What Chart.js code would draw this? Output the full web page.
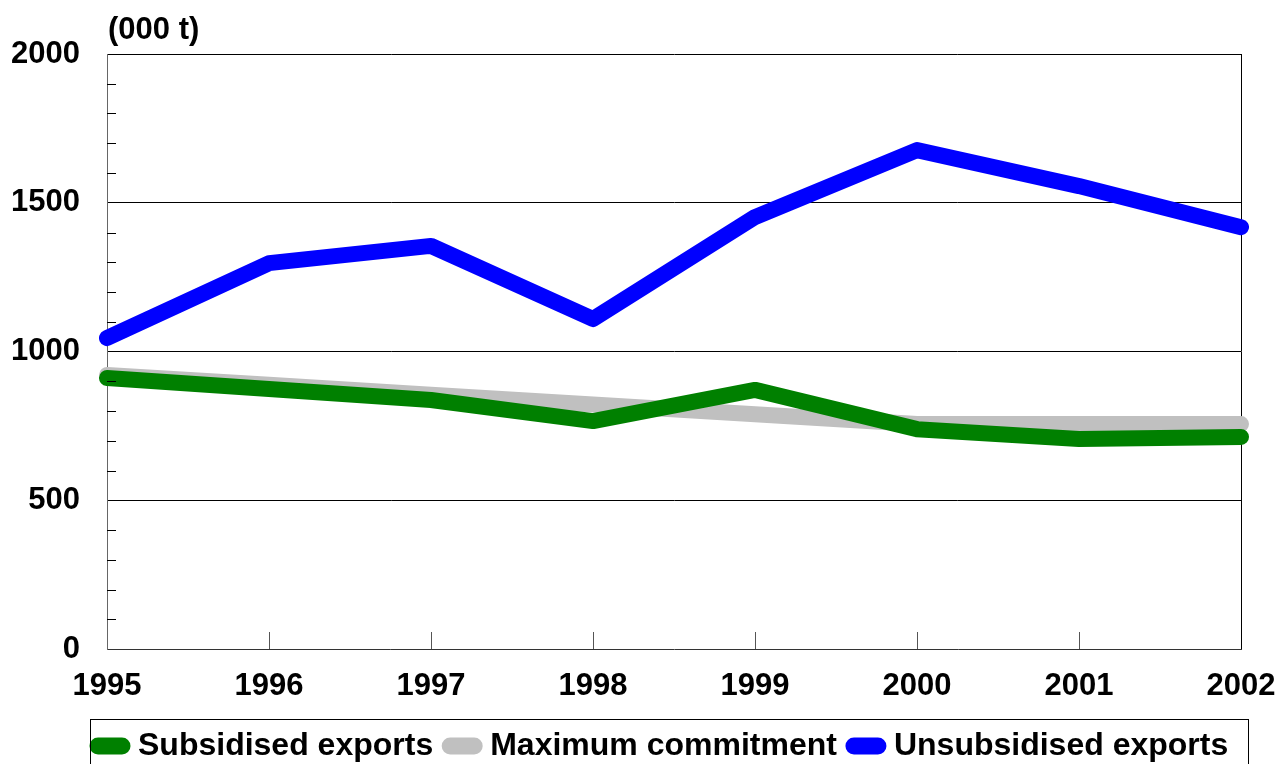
<!DOCTYPE html>
<html>
<head>
<meta charset="utf-8">
<script src="https://cdn.jsdelivr.net/npm/chart.js@4/dist/chart.umd.min.js"></script>
<style>
  html, body { margin: 0; padding: 0; background: #fff; }
  #wrap { width: 1281px; height: 764px; }
</style>
</head>
<body>
<div id="wrap"><canvas id="exportsChart" width="1281" height="764"></canvas></div>
<script>
// data (000 t)
var years = ['1995', '1996', '1997', '1998', '1999', '2000', '2001', '2002'];
var subsidised = [911, 874, 837, 766, 871, 739, 706, 713];
var maxCommitment = [921, 888, 855, 822, 789, 756, 756, 756];
var unsubsidised = [1045, 1297, 1355, 1109, 1452, 1677, 1556, 1418];
var yLabels = [0, 500, 1000, 1500, 2000];
var unitLabel = '(000 t)';

var FONT = '"Liberation Sans", Arial, sans-serif';

// small ticks inside the plot + unit label + legend frame
var extras = {
  id: 'extras',
  afterLayout: function (chart) {
    var lg = chart.legend;
    if (lg) { lg.left = 81; lg.right = 1281; lg.top += 8; lg.bottom += 8; }
  },
  afterDraw: function (chart) {
    var ctx = chart.ctx, x = chart.scales.x, y = chart.scales.y, a = chart.chartArea;
    ctx.save();
    ctx.lineWidth = 1;
    ctx.strokeStyle = '#000';
    for (var v = 100; v < 2000; v += 100) {
      if (v % 500 === 0) continue;
      var py = Math.round(y.getPixelForValue(v)) + 0.5;
      ctx.beginPath(); ctx.moveTo(a.left, py); ctx.lineTo(a.left + 9, py); ctx.stroke();
    }
    ctx.strokeStyle = '#555';
    for (var i = 1; i < years.length - 1; i++) {
      var px = Math.round(x.getPixelForValue(i)) + 0.5;
      ctx.beginPath(); ctx.moveTo(px, a.bottom); ctx.lineTo(px, a.bottom - 17); ctx.stroke();
    }
    ctx.fillStyle = '#000';
    ctx.font = 'bold 31px ' + FONT;
    ctx.textBaseline = 'middle';
    ctx.textAlign = 'left';
    ctx.fillText(unitLabel, a.left + 1, 30);

    var lg = chart.legend;
    if (lg && lg.legendHitBoxes.length) {
      var hb = lg.legendHitBoxes;
      var l = hb[0].left - 8, r = hb[hb.length - 1].left + hb[hb.length - 1].width + 20;
      ctx.strokeStyle = '#000';
      ctx.strokeRect(Math.round(l) + 0.5, 719.5, Math.round(r - l), 60);
    }
    ctx.restore();
  }
};

new Chart(document.getElementById('exportsChart'), {
  type: 'line',
  data: {
    labels: years,
    datasets: [
      { label: 'Subsidised exports', data: subsidised, borderColor: '#008000', backgroundColor: '#008000' },
      { label: 'Maximum commitment', data: maxCommitment, borderColor: '#c0c0c0', backgroundColor: '#c0c0c0' },
      { label: 'Unsubsidised exports', data: unsubsidised, borderColor: '#0000ff', backgroundColor: '#0000ff' }
    ]
  },
  options: {
    responsive: false,
    animation: false,
    devicePixelRatio: 1,
    layout: { padding: { top: 54, right: 40, left: 0, bottom: 0 } },
    elements: {
      line: { borderWidth: 16, borderCapStyle: 'round', borderJoinStyle: 'round', tension: 0, fill: false },
      point: { radius: 0, hoverRadius: 0 }
    },
    plugins: {
      tooltip: { enabled: false },
      legend: {
        position: 'bottom',
        align: 'start',
        labels: {
          usePointStyle: true,
          pointStyle: 'line',
          pointStyleWidth: 24,
          boxWidth: 24,
          padding: 17,
          color: '#000',
          font: { family: FONT, size: 32, weight: 'bold' },
          generateLabels: function (chart) {
            return chart.data.datasets.map(function (ds, i) {
              return {
                text: ds.label,
                datasetIndex: i,
                fillStyle: ds.borderColor,
                strokeStyle: ds.borderColor,
                lineWidth: 17,
                lineCap: 'round',
                pointStyle: 'line',
                fontColor: '#000',
                hidden: false
              };
            });
          }
        }
      }
    },
    scales: {
      x: {
        type: 'category',
        offset: false,
        afterFit: function (s) { s.height = 56; },
        border: { color: '#333', width: 1 },
        grid: {
          drawTicks: true,
          tickLength: 19,
          tickColor: 'rgba(0,0,0,0)',
          color: function (c) { return c.index === years.length - 1 ? '#000' : 'rgba(0,0,0,0)'; }
        },
        ticks: { color: '#000', padding: 0, maxRotation: 0, autoSkip: false, font: { family: FONT, size: 31, weight: 'bold' } }
      },
      y: {
        min: 0,
        max: 2000,
        afterFit: function (s) { s.width = 107; },
        border: { color: '#666', width: 1 },
        grid: {
          drawTicks: false,
          color: function (c) { return (c.tick.value > 0 && c.tick.value % 500 === 0) ? '#000' : 'rgba(0,0,0,0)'; }
        },
        ticks: {
          stepSize: 100,
          autoSkip: false,
          padding: 27,
          color: '#000',
          font: { family: FONT, size: 31, weight: 'bold' },
          callback: function (v) { return yLabels.indexOf(v) >= 0 ? String(v) : ''; }
        }
      }
    }
  },
  plugins: [extras]
});
</script>
</body>
</html>
